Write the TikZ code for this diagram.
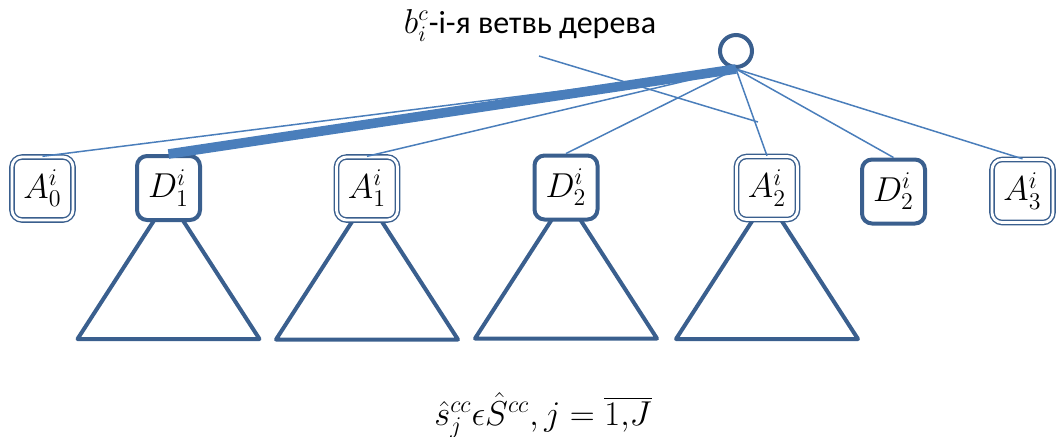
\documentclass[tikz,border=0pt]{standalone}
\usepackage{fontspec}
\newfontfamily\branchfont{Carlito}
\usetikzlibrary{backgrounds}
\definecolor{TreeNavy}{HTML}{3A5F8E}
\definecolor{TreeBlue}{HTML}{4A7EBB}

\begin{document}
\begin{tikzpicture}[x=0.5pt,y=-0.5pt,
    anode/.style={draw=TreeNavy,line width=0.7pt,double=white,double distance=1.4pt,
      rounded corners=5pt,fill=white,minimum width=30.5pt,minimum height=31.5pt,
      inner sep=0pt,font=\fontsize{18}{21}\selectfont},
    dnode/.style={draw=TreeNavy,line width=2pt,rounded corners=5pt,fill=white,
      minimum width=31.5pt,minimum height=32pt,inner sep=0pt,
      font=\fontsize{18}{21}\selectfont},
    rootnode/.style={circle,draw=TreeNavy,line width=2pt,minimum size=16pt,inner sep=0pt},
    branch/.style={draw=TreeBlue,line width=0.75pt},
    mainbranch/.style={draw=TreeBlue,line width=4.8pt},
    subtree/.style={draw=TreeNavy,line width=2pt,line join=round}
  ]
    \useasboundingbox (0,0) rectangle (1057,436);

    \node[rootnode] (top) at (736,51) {};
    \node[font=\branchfont\fontsize{16}{19}\selectfont,anchor=base] (title) at (530,33)
      {$b_i^c$-i-я ветвь дерева};

    \node[anode] (a0) at (42.5,188.5) {$A_0^i$};
    \node[dnode] (d1) at (168.5,188) {$D_1^i$};
    \node[anode] (a1) at (367,188.5) {$A_1^i$};
    \node[dnode] (d2) at (566,187.5) {$D_2^i$};
    \node[anode] (a2) at (767,188) {$A_2^i$};
    \node[dnode] (d2b) at (893.5,191.5) {$D_2^i$};
    \node[anode] (a3) at (1022.5,191) {$A_3^i$};

    % subtrees behind the boxes
    \begin{scope}[on background layer]
      \foreach \b in {d1,a1,d2,a2}
        \draw[subtree] ([yshift=-5pt]\b.center) -- ++(-91,141) -- ++(182,0) -- cycle;
    \end{scope}

    \foreach \b in {a0,a1,d2,a2,d2b,a3}
      \draw[branch] (top.south) -- (\b.north);
    \draw[mainbranch] (top.south) -- (d1.north);

    \coordinate (ptr) at (539,56);
    \coordinate (ptrend) at (758,122);
    \draw[branch] (ptr) -- (ptrend);

    \node[font=\fontsize{17}{20}\selectfont,anchor=base] (setlabel) at (543,425)
      {$\hat{s}_j^{cc}\epsilon\hat{S}^{cc},j=\overline{1{,}J}$};
\end{tikzpicture}
\end{document}
